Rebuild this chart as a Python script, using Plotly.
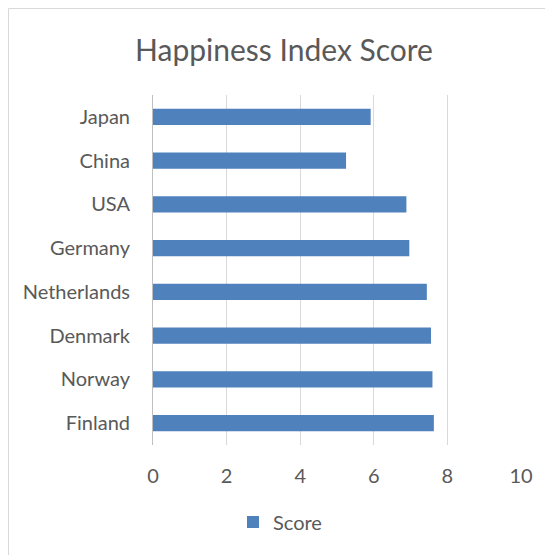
import plotly.graph_objects as go

countries = ["Japan", "China", "USA", "Germany", "Netherlands", "Denmark", "Norway", "Finland"]
scores = [5.915, 5.246, 6.886, 6.965, 7.441, 7.555, 7.594, 7.632]
x_ticks = [0, 2, 4, 6, 8, 10]

FONT = "Lato"
GREY_TEXT = "#595959"

# page has an 8px body margin, so the figure is laid out in local coords (page - 8)
W, H = 545, 547
L, R, T, B = 145, 513, 87, 437

fig = go.Figure()
fig.add_trace(go.Bar(
    x=scores, y=countries, orientation="h", name="Score",
    marker=dict(color="#4F81BD", line=dict(width=0)),
))

fig.update_layout(
    width=W, height=H,
    margin=dict(l=L, r=W - R, t=T, b=H - B),
    paper_bgcolor="white", plot_bgcolor="white",
    font=dict(family=FONT, size=20, color=GREY_TEXT),
    title=dict(text="Happiness Index Score", x=276 / W, xanchor="center",
               y=1 - 42 / H, yanchor="middle", yref="container",
               font=dict(family=FONT, size=30, color=GREY_TEXT)),
    bargap=0.634,
    showlegend=True,
    legend=dict(orientation="h", x=(225 - L) / (R - L), xanchor="left",
                y=(B - 514) / (B - T), yanchor="middle",
                font=dict(family=FONT, size=20, color=GREY_TEXT),
                itemwidth=30),
    xaxis=dict(range=[0, 10], tickvals=x_ticks, showgrid=True, gridcolor="#D9D9D9",
               gridwidth=1, zeroline=False, showline=False, ticks="",
               ticklabelstandoff=17, tickfont=dict(family=FONT, size=20, color=GREY_TEXT)),
    yaxis=dict(autorange="reversed", showline=True, linecolor="#BFBFBF", linewidth=1,
               showgrid=False, ticks="", ticklabelstandoff=18,
               tickfont=dict(family=FONT, size=20, color=GREY_TEXT)),
    shapes=[dict(type="rect", xref="paper", yref="paper",
                 x0=(0.5 - L) / (R - L), x1=1.2, y0=-0.4, y1=(B - 0.5) / (B - T),
                 line=dict(color="#D9D9D9", width=1), fillcolor="rgba(0,0,0,0)", layer="below")],
)

fig.write_html("out.html")
